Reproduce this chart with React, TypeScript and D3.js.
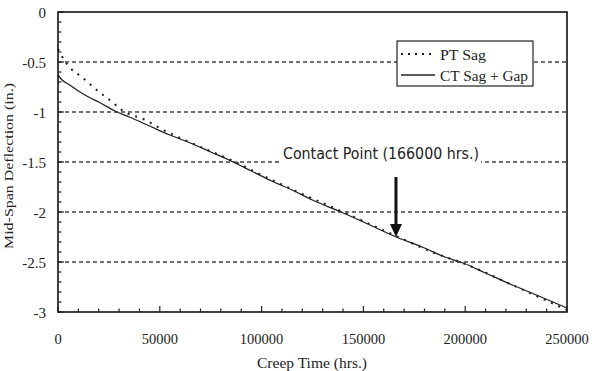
import React from "react";
import * as d3 from "d3";

const ctTime = [0, 2000, 5000, 10000, 15000, 20000, 28000, 35000, 45000, 55000, 65000, 75000, 85000, 95000, 105000, 115000, 125000, 139000, 150000, 165000, 180000, 190000, 199000, 210000, 221000, 235000, 250000];
const ctSag = [-0.63, -0.68, -0.72, -0.79, -0.85, -0.9, -0.99, -1.05, -1.14, -1.23, -1.31, -1.4, -1.49, -1.59, -1.69, -1.78, -1.88, -2.0, -2.1, -2.24, -2.36, -2.45, -2.51, -2.61, -2.71, -2.83, -2.96];

const ptTime = [0, 3000, 6000, 11000, 19000, 26000, 32000, 43000, 50000, 60000, 70000, 85000, 100000, 120000, 140000, 165000, 185000, 200000, 220000, 235000, 250000];
const ptSag = [-0.37, -0.48, -0.56, -0.64, -0.78, -0.89, -0.99, -1.08, -1.16, -1.26, -1.35, -1.48, -1.63, -1.82, -2.0, -2.23, -2.41, -2.52, -2.7, -2.84, -2.98];

const xTicks = [0, 50000, 100000, 150000, 200000, 250000];
const yTicks = [0, -0.5, -1, -1.5, -2, -2.5, -3];
const gridLines = [-0.5, -1, -1.5, -2, -2.5];
const contactTime = 166000;

export default function App() {
  const W = 592, H = 371;
  const left = 58, right = 567, top = 12, bottom = 312;
  const x = d3.scaleLinear().domain([0, 250000]).range([left, right]);
  const y = d3.scaleLinear().domain([-3, 0]).range([bottom, top]);
  const ctLine = d3.line<number>().x((d, i) => x(ctTime[i])).y((d) => y(d)).curve(d3.curveMonotoneX);
  const ptLine = d3.line<number>().x((d, i) => x(ptTime[i])).y((d) => y(d)).curve(d3.curveMonotoneX);
  const xMinor = d3.range(0, 250001, 10000);
  const yMinor = d3.range(0, 31).map((i) => -i / 10);
  const ax = x(contactTime);
  const serif = "'Liberation Serif', 'Times New Roman', serif";

  return (
    <svg width={W} height={H} style={{ position: "absolute", left: 0, top: 0, background: "#fff" }}>
      <rect x={0} y={0} width={W} height={H} fill="#fff" />
      {gridLines.map((g) => (
        <line key={g} x1={left} x2={right} y1={y(g)} y2={y(g)} stroke="#444" strokeWidth={1.5} strokeDasharray="4,3" />
      ))}
      {/* contact label with white background */}
      <rect x={282} y={145} width={199} height={20} fill="#fff" />
      <text x={283} y={159} fontFamily="'DejaVu Sans', Verdana, sans-serif" fontSize={15} textLength={196} lengthAdjust="spacingAndGlyphs" fill="#222">
        Contact Point (166000 hrs.)
      </text>
      <path d={ptLine(ptSag) || ""} fill="none" stroke="#222" strokeWidth={2} strokeDasharray="2,6" />
      <path d={ctLine(ctSag) || ""} fill="none" stroke="#222" strokeWidth={1.3} />
      {/* arrow */}
      <line x1={ax} x2={ax} y1={177} y2={226} stroke="#111" strokeWidth={3} />
      <path d={`M${ax - 6},${224} L${ax + 6},${224} L${ax},${237} Z`} fill="#111" />
      {/* frame */}
      <rect x={left} y={top} width={right - left} height={bottom - top} fill="none" stroke="#111" strokeWidth={1.6} />
      {xMinor.map((t) => (
        <line key={t} x1={x(t)} x2={x(t)} y1={bottom} y2={bottom - (t % 50000 === 0 ? 6 : 3.5)} stroke="#222" strokeWidth={1.2} />
      ))}
      {yMinor.map((v) => (
        <line key={v} x1={left} x2={left + (Math.round(v * 10) % 5 === 0 ? 6 : 3.5)} y1={y(v)} y2={y(v)} stroke="#222" strokeWidth={1.2} />
      ))}
      {yTicks.map((v) => (
        <text key={v} x={46} y={y(v) + 6} textAnchor="end" fontFamily={serif} fontSize={15} fill="#222">
          {d3.format("")(v).replace("−", "-")}
        </text>
      ))}
      {xTicks.map((t) => (
        <text key={t} x={x(t)} y={344} textAnchor="middle" fontFamily={serif} fontSize={14.5} fill="#222">
          {t}
        </text>
      ))}
      <text x={312} y={368} textAnchor="middle" fontFamily={serif} fontSize={14} textLength={110} lengthAdjust="spacingAndGlyphs" fill="#222">
        Creep Time (hrs.)
      </text>
      <text transform={`translate(13,${166}) rotate(-90)`} textAnchor="middle" fontFamily={serif} fontSize={13.5} textLength={166} lengthAdjust="spacingAndGlyphs" fill="#222">
        Mid-Span Deflection (in.)
      </text>
      {/* legend */}
      <rect x={397} y={41} width={136} height={45} fill="#fff" stroke="#222" strokeWidth={1.2} />
      <line x1={401} x2={435} y1={54} y2={54} stroke="#222" strokeWidth={2} strokeDasharray="2,5" />
      <line x1={401} x2={435} y1={75} y2={75} stroke="#222" strokeWidth={1.3} />
      <text x={440} y={60} fontFamily={serif} fontSize={14} textLength={46} lengthAdjust="spacingAndGlyphs" fill="#222">PT Sag</text>
      <text x={440} y={81} fontFamily={serif} fontSize={14} textLength={88} lengthAdjust="spacingAndGlyphs" fill="#222">CT Sag + Gap</text>
    </svg>
  );
}
